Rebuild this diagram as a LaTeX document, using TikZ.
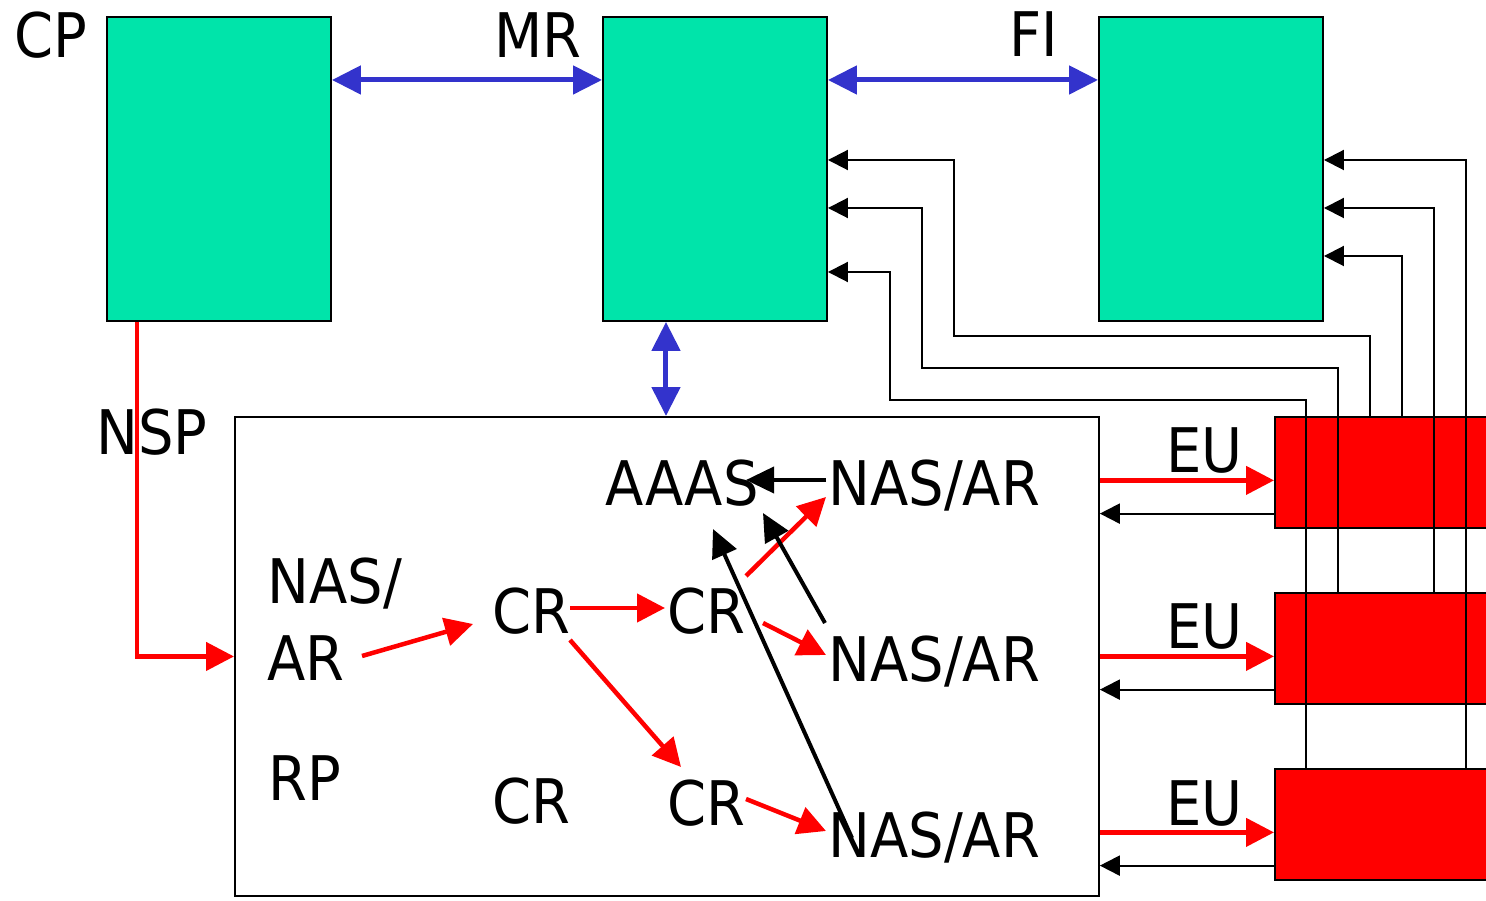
\documentclass[tikz,border=0pt]{standalone}
\usepackage{fontspec}
\setmainfont{DejaVu Sans}[FakeStretch=0.91]
\usepackage{xcolor}
\usetikzlibrary{arrows.meta}

\definecolor{boxteal}{RGB}{0,228,170}
\definecolor{linkblue}{RGB}{51,51,204}

\begin{document}
\begin{tikzpicture}[
      x=0.02cm, y=-0.02cm,
      font=\fontsize{35}{42}\selectfont,
      txt/.style={inner sep=0pt, anchor=base west},
      party/.style={draw, line width=0.04cm, fill=boxteal, minimum width=4.48cm, minimum height=6.08cm, anchor=north west},
      eubox/.style={draw, line width=0.04cm, fill=red, minimum width=4.48cm, minimum height=2.22cm, anchor=north west},
      link/.style={linkblue, line width=0.1cm, {Triangle[length=0.58cm,width=0.56cm]}-{Triangle[length=0.58cm,width=0.56cm]}},
      flow/.style={red, line width=0.09cm, -{Triangle[length=0.56cm,width=0.56cm]}},
      auth/.style={line width=0.08cm, -{Triangle[length=0.56cm,width=0.52cm]}},
      feed/.style={line width=0.04cm, -{Triangle[length=0.4cm,width=0.4cm]}}
    ]
    \useasboundingbox (0,0) rectangle (1486,901);

    % Parties
    \node[party] (cp) at (106,16) {};
    \node[party] (mr) at (602,16) {};
    \node[party] (fi) at (1098,16) {};
    \node[draw, line width=0.04cm, minimum width=17.28cm, minimum height=9.58cm, anchor=north west] (rp) at (234,416) {};
    \foreach \n/\y in {1/416, 2/592, 3/768}
      \node[eubox] (eu\n) at (1274,\y) {};

    \node[txt] (cplbl) at (14,58) {CP};
    \node[txt] (mrlbl) at (494,58) {MR};
    \node[txt] (filbl) at (1009,57) {FI};
    \node[txt] (nsplbl) at (96,455) {NSP};
    \node[txt] (rplbl) at (268,800) {RP};
    \foreach \n/\y in {1/473, 2/648, 3/825}
      \node[txt] (eulbl\n) at (1166,\y) {EU};

    % Inside RP
    \node[txt, align=left] (nasL) at (267,680) {NAS/\\[0.05cm]AR};
    \node[txt] (cr1) at (492,633) {CR};
    \node[txt] (cr2) at (667,633) {CR};
    \node[txt] (cr3) at (492,823) {CR};
    \node[txt] (cr4) at (667,825) {CR};
    \node[txt] (aaas) at (605,505) {AAAS};
    \node[txt] (nasT) at (828,505) {NAS/AR};
    \node[txt] (nasM) at (828,681) {NAS/AR};
    \node[txt] (nasB) at (828,857) {NAS/AR};

    % Links between parties
    \draw[link] ([yshift=-1.28cm]cp.north east) -- ([yshift=-1.28cm]mr.north west);
    \draw[link] ([yshift=-1.28cm]mr.north east) -- ([yshift=-1.28cm]fi.north west);
    \draw[link] ([xshift=1.28cm]mr.south west) -- ([xshift=1.28cm]mr.south west |- rp.north);
    \draw[flow] ([xshift=0.62cm]cp.south west) |- (rp.west);

    % Routing
    \draw[flow] ([shift={(95,-24)}]nasL.base west) -- ([shift={(-19,-9)}]cr1.base west);
    \draw[flow] ([shift={(78,-25)}]cr1.base west) -- ([shift={(-2,-25)}]cr2.base west);
    \draw[flow] ([shift={(78,7)}]cr1.base west) -- ([shift={(14,-58)}]cr4.base west);
    \draw[flow] ([shift={(79,-57)}]cr2.base west) -- ([shift={(-2,-8)}]nasT.base west);
    \draw[flow] ([shift={(96,-10)}]cr2.base west) -- ([shift={(-2,-26)}]nasM.base west);
    \draw[flow] ([shift={(79,-26)}]cr4.base west) -- ([shift={(-2,-26)}]nasB.base west);
    \draw[auth] ([shift={(-2,-25)}]nasT.base west) -- ([shift={(141,-25)}]aaas.base west);
    \draw[auth] ([shift={(-3,-58)}]nasM.base west) -- ([shift={(158,8)}]aaas.base west);
    \draw[auth] ([shift={(24,-19)}]nasB.base west) -- ([shift={(108,24)}]aaas.base west);

    % RP <-> EU
    \foreach \n in {1,2,3} {
      \draw[flow] (rp.east |- eu\n.184) -- (eu\n.184);
      \draw[feed] (eu\n.200) -- (rp.east |- eu\n.200);
    }

    % EU -> MR and FI
    \foreach \n/\xa/\xt/\ya/\ym in {1/1370/954/336/160, 2/1338/922/368/208, 3/1306/890/400/272}
      \draw[feed] (eu\n.north -| \xa,0) |- (\xt,\ya) |- (mr.east |- 0,\ym);
    \foreach \n/\xb/\yf in {1/1402/256, 2/1434/208, 3/1466/160}
      \draw[feed] (eu\n.north -| \xb,0) |- (fi.east |- 0,\yf);
  \end{tikzpicture}
\end{document}
